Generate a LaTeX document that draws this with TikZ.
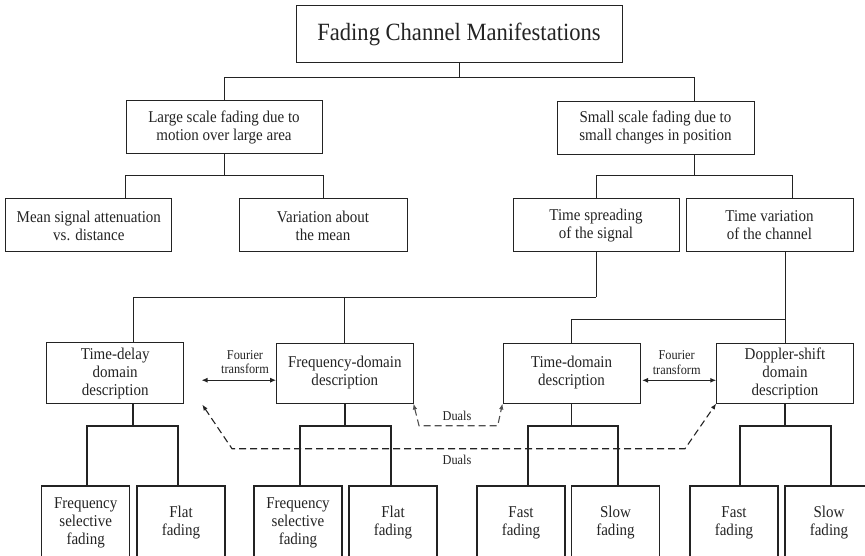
\documentclass[tikz,border=0pt]{standalone}
\usepackage{fontspec}
\setmainfont{Liberation Serif}[FakeStretch=0.91]
\usetikzlibrary{calc,arrows.meta}
\definecolor{ink}{RGB}{35,35,35}
\definecolor{dualink}{RGB}{80,80,80}

\tikzset{
  box/.style={draw=ink, line width=1pt, text=ink, align=center, inner sep=0pt,
              font=\fontsize{16.5}{18}\selectfont},
  wh/.style 2 args={minimum width=#1pt, minimum height=#2pt},
  leaf/.style={box, wh={88}{74}, line width=1.2pt},
  link/.style={draw=ink, line width=1pt},
  thicklink/.style={draw=ink, line width=1.8pt},
  ft/.style={draw=ink, line width=1.2pt,
             {Latex[length=6pt,width=5pt]}-{Latex[length=6pt,width=5pt]}},
  dual/.style={draw=dualink, line width=1.1pt, dash pattern=on 7pt off 4pt,
               {Latex[length=6pt,width=4.5pt]}-{Latex[length=6pt,width=4.5pt]}},
  smalltext/.style={text=ink, align=center, inner sep=0pt,
                    font=\fontsize{13.5}{14.5}\selectfont},
}

\begin{document}
\begin{tikzpicture}[x=1pt, y=-1pt]
\useasboundingbox (0,0) rectangle (865,556);
\clip (0,0) rectangle (865,556);

% ---- boxes -------------------------------------------------------------
\node[box, wh={326}{57}, font=\fontsize{24.8}{27}\selectfont] (top) at (459,34.5)
  {Fading Channel Manifestations};
\node[box, wh={196}{53}] (large) at (224,127.5)
  {Large scale fading due to\\motion over large area};
\node[box, wh={197}{53}] (small) at (655.5,127.75)
  {Small scale fading due to\\small changes in position};
\node[box, wh={166}{53}] (mean) at (88.85,225.5)
  {Mean signal attenuation\\vs. distance};
\node[box, wh={168}{53}] (vari) at (323,225.5)
  {Variation about\\the mean};
\node[box, wh={166}{53}] (spread) at (596,225.5)
  {Time spreading\\of the signal};
\node[box, wh={167}{53}] (tvar) at (769.5,225.5)
  {Time variation\\of the channel};

\node[box, wh={137}{61}] (tdelay) at (115.2,373.2)
  {Time-delay\\domain\\description};
\node[box, wh={136.3}{60}] (freq) at (344.85,373)
  {Frequency-domain\\description};
\node[box, wh={137}{60}] (tdom) at (571.5,373)
  {Time-domain\\description};
\node[box, wh={136.5}{60}] (dopp) at (785,373)
  {Doppler-shift\\domain\\description};

\node[leaf] (fs1)   at (85.7,523)  {Frequency\\selective\\fading};
\node[leaf] (fl1)   at (181,523)   {Flat\\fading};
\node[leaf] (fs2)   at (298,523)   {Frequency\\selective\\fading};
\node[leaf] (fl2)   at (393,523)   {Flat\\fading};
\node[leaf] (fast1) at (521,523)   {Fast\\fading};
\node[leaf] (slow1) at (615.5,523) {Slow\\fading};
\node[leaf] (fast2) at (734,523)   {Fast\\fading};
\node[leaf] (slow2) at (829,523)   {Slow\\fading};

% ---- bar heights of the tree ------------------------------------------
\coordinate (bar0) at (0,77.7);
\coordinate (bar1) at (0,176);
\coordinate (bar2) at (0,297);
\coordinate (bar3) at (0,319.3);
\coordinate (bar4) at (0,425.7);

% ---- attachment points off the box centres ----------------------------
\coordinate (sIn)    at ($(small.north)+(38.5,0)$);
\coordinate (sOut)   at ($(small.south)+(38.5,0)$);
\coordinate (meanIn) at ($(mean.north)+(36.15,0)$);
\coordinate (tvarIn) at ($(tvar.north)+(22.5,0)$);
\coordinate (tdIn)   at ($(tdelay.north)+(17.8,0)$);
\coordinate (tdOut)  at ($(tdelay.south)+(17.8,0)$);
\coordinate (fs1In)   at ($(fs1.north)+(1.3,0)$);
\coordinate (fl1In)   at ($(fl1.north)+(-3,0)$);
\coordinate (fs2In)   at ($(fs2.north)+(2,0)$);
\coordinate (fl2In)   at ($(fl2.north)+(-2.3,0)$);
\coordinate (fast1In) at ($(fast1.north)+(7,0)$);
\coordinate (slow1In) at ($(slow1.north)+(2.5,0)$);
\coordinate (fast2In) at ($(fast2.north)+(6,0)$);
\coordinate (slow2In) at ($(slow2.north)+(2,0)$);

% ---- upper tree ---------------------------------------------------------
\draw[link] (top.south) -- (top.south |- bar0);
\draw[link] (large.north) |- (sIn |- bar0) -- (sIn);

\draw[link] (large.south) -- (large.south |- bar1);
\draw[link] (meanIn) |- (vari.north |- bar1) -- (vari.north);

\draw[link] (sOut) -- (sOut |- bar1);
\draw[link] (spread.north) |- (tvarIn |- bar1) -- (tvarIn);

\draw[link] (spread.south) -- (spread.south |- bar2);
\draw[link] (tdIn) |- (spread.south |- bar2);
\draw[link] (freq.north) -- (freq.north |- bar2);

\draw[link] (tvar.south -| dopp.north) -- (dopp.north);
\draw[link] (tdom.north) |- (dopp.north |- bar3);

% ---- lower tree ---------------------------------------------------------
\draw[thicklink] (tdOut) -- (tdOut |- bar4);
\draw[thicklink] (fs1In) |- (fl1In |- bar4) -- (fl1In);
\draw[thicklink] (freq.south) -- (freq.south |- bar4);
\draw[thicklink] (fs2In) |- (fl2In |- bar4) -- (fl2In);
\draw[thicklink] (tdom.south) -- (tdom.south |- bar4);
\draw[thicklink] (fast1In) |- (slow1In |- bar4) -- (slow1In);
\draw[thicklink] (dopp.south) -- (dopp.south |- bar4);
\draw[thicklink] (fast2In) |- (slow2In |- bar4) -- (slow2In);

% ---- Fourier transform pairs -------------------------------------------
\coordinate (ftL) at ($(tdelay.east)+(17.3,7)$);
\draw[ft] (ftL) -- (ftL -| freq.west);
\node[smalltext] (ftLtext) at (245,362) {Fourier\\transform};

\coordinate (ftR) at ($(tdom.east)+(1.5,7.3)$);
\draw[ft] (ftR) -- (ftR -| dopp.west);
\node[smalltext] (ftRtext) at (676.7,362.5) {Fourier\\transform};

% ---- duality links ------------------------------------------------------
\coordinate (d1a) at (419,425.7);
\coordinate (d1b) at (497.7,425.7);
\draw[dual] (freq.south east) -- (d1a) -- (d1b) -- (tdom.south west);
\node[smalltext] (du1) at (457,415.7) {Duals};

\coordinate (d2s) at ($(tdelay.south east)+(18,0.3)$);
\coordinate (d2a) at (232,448.7);
\coordinate (d2b) at (685,448.7);
\draw[dual, draw=ink] (d2s) -- (d2a) -- (d2b) -- (dopp.south west);
\node[smalltext] (du2) at (457,460) {Duals};
\end{tikzpicture}
\end{document}
